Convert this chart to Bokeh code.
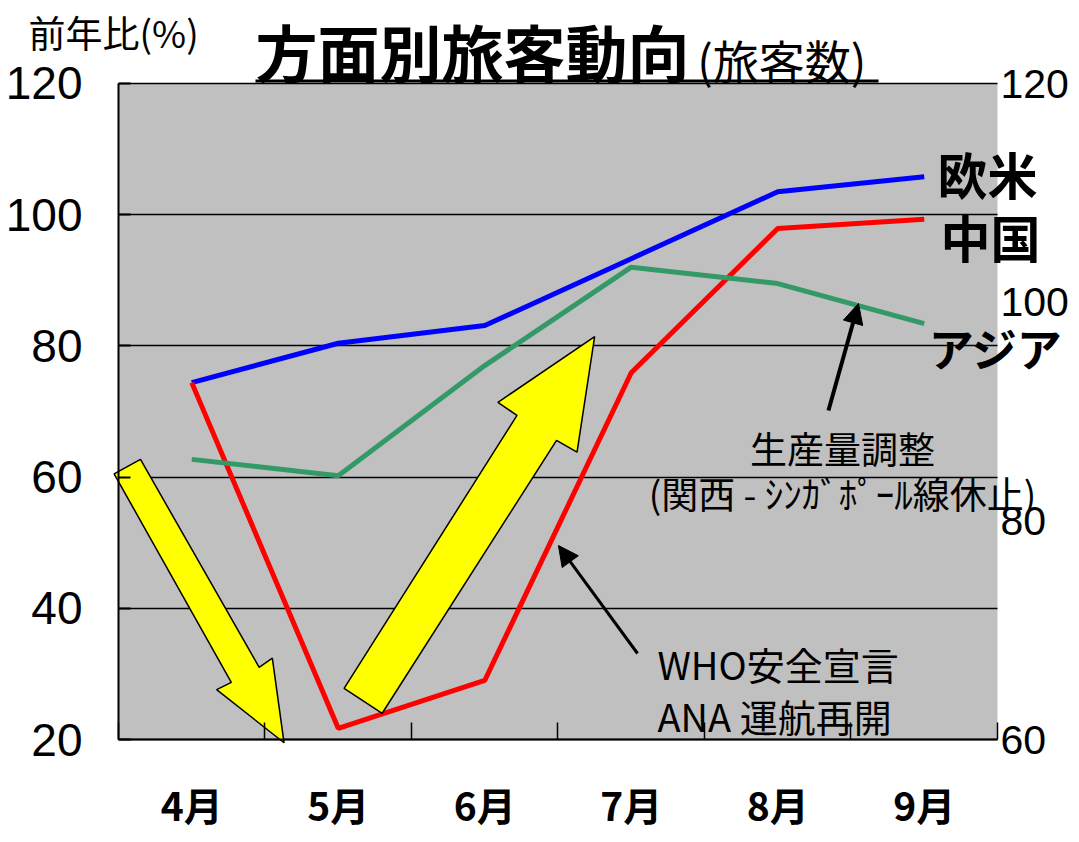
from bokeh.plotting import figure
from bokeh.models import Range1d, LinearAxis, FixedTicker, Label, Arrow, NormalHead, Grid
from bokeh.embed import file_html
from bokeh.resources import INLINE

# ---- data ----
months = ["4月", "5月", "6月", "7月", "8月", "9月"]
europe_us = [74.4, 80.4, 83.1, 93.3, 103.5, 105.8]   # 欧米
china = [74.4, 21.7, 29.0, 75.9, 97.9, 99.3]          # 中国
asia = [62.7, 60.2, 77.0, 92.0, 89.5, 83.4]           # アジア
left_ticks = [20, 40, 60, 80, 100, 120]
right_ticks = [60, 80, 100, 120]

# yellow trend arrows (x in month slots, y in left-axis %)
down_arrow_x = [-0.03, 0.15, 0.96, 1.05, 1.13, 0.67, 0.77]
down_arrow_y = [60.5, 62.7, 31.0, 32.4, 19.5, 27.6, 28.7]
up_arrow_x = [1.54, 1.80, 2.99, 3.13, 3.25, 2.59, 2.72]
up_arrow_y = [27.8, 24.0, 65.6, 63.8, 81.4, 71.4, 69.4]

NUM_FONT = "Liberation Sans"
JP_FONT = "Noto Sans CJK JP"

n = len(months)
centers = [i + 0.5 for i in range(n)]
bounds = list(range(n + 1))

# whole canvas is the frame; plot area is x 0..6, y 20..120
p = figure(width=1071, height=834, output_backend="svg", toolbar_location=None,
           x_range=Range1d(-0.80546, 6.50512), y_range=Range1d(5.5183, 132.6524),
           x_axis_location=None, y_axis_location=None,
           min_border=0, min_border_left=0, min_border_right=0,
           min_border_top=0, min_border_bottom=0)
p.background_fill_color = "white"
p.border_fill_color = "white"
p.outline_line_color = None
p.extra_y_ranges = {"right": Range1d(51.311, 127.5915)}
# drop the default grids
p.center = []

# grey plot area
p.quad(left=[0], right=[n], bottom=[left_ticks[0]], top=[left_ticks[-1]],
       fill_color="#C0C0C0", line_color=None, level="image")

# horizontal grid limited to the plot area
grid = Grid(dimension=1, ticker=FixedTicker(ticks=left_ticks), cross_bounds=(0, n),
            grid_line_color="black", grid_line_width=1.5)
p.add_layout(grid)

# x axis
xa = LinearAxis(fixed_location=left_ticks[0], bounds=(0, n),
                ticker=FixedTicker(ticks=centers, minor_ticks=bounds))
xa.major_label_overrides = {c: m for c, m in zip(centers, months)}
xa.major_tick_line_color = None
xa.minor_tick_line_color = "black"
xa.minor_tick_line_width = 1.5
xa.minor_tick_in = 17
xa.minor_tick_out = 0
xa.axis_line_width = 2
xa.axis_line_color = "black"
xa.major_label_text_font = JP_FONT
xa.major_label_text_font_style = "bold"
xa.major_label_text_font_size = "39px"
xa.major_label_text_color = "black"
xa.major_label_standoff = 30
p.add_layout(xa, "below")

# left y axis
ya = LinearAxis(fixed_location=0, bounds=(left_ticks[0], left_ticks[-1]),
                ticker=FixedTicker(ticks=left_ticks))
ya.major_tick_in = 12
ya.major_tick_out = 0
ya.major_tick_line_width = 2
ya.minor_tick_line_color = None
ya.axis_line_width = 2
ya.axis_line_color = "black"
ya.major_label_text_font = NUM_FONT
ya.major_label_text_font_size = "46px"
ya.major_label_text_color = "black"
ya.major_label_standoff = 36
p.add_layout(ya, "left")

# right y axis (no line, labels only)
ry = LinearAxis(y_range_name="right", fixed_location=n,
                bounds=(right_ticks[0], right_ticks[-1]),
                ticker=FixedTicker(ticks=right_ticks))
ry.axis_line_color = None
ry.major_tick_line_color = None
ry.minor_tick_line_color = None
ry.major_tick_in = 0
ry.major_tick_out = 0
ry.major_label_text_font = NUM_FONT
ry.major_label_text_font_size = "41px"
ry.major_label_text_color = "black"
ry.major_label_standoff = 3
p.add_layout(ry, "right")

# series lines
p.line(centers, europe_us, line_color="#0000FF", line_width=5)
p.line(centers, china, line_color="#FF0000", line_width=5)
p.line(centers, asia, line_color="#339966", line_width=5)

# yellow arrows
p.patch(down_arrow_x, down_arrow_y, fill_color="#FFFF00", line_color="black", line_width=1.5)
p.patch(up_arrow_x, up_arrow_y, fill_color="#FFFF00", line_color="black", line_width=1.5)

# black pointer arrows
p.add_layout(Arrow(end=NormalHead(size=20, fill_color="black", line_color="black"),
                   x_start=4.846, y_start=70.15, x_end=5.051, y_end=86.46,
                   line_width=4, line_color="black"))
p.add_layout(Arrow(end=NormalHead(size=20, fill_color="black", line_color="black"),
                   x_start=3.543, y_start=33.11, x_end=3.003, y_end=49.57,
                   line_width=3, line_color="black"))


def lab(x, y, text, size, bold=False, align="left", font=JP_FONT):
    p.add_layout(Label(x=x, y=y, text=text, text_font=font, text_font_size=size,
                       text_font_style="bold" if bold else "normal",
                       text_align=align, text_baseline="middle", text_color="black"))


# titles
lab(-0.614, 127.8, "前年比(%)", "37px")
lab(0.935, 124.9, "方面別旅客動向", "62px", bold=True)
lab(3.950, 123.7, "(旅客数)", "46px")
p.add_layout(Arrow(end=None, start=None, x_start=0.935, y_start=120.4, x_end=5.188, y_end=120.4,
                   line_width=3, line_color="black"))

# series names
lab(5.590, 106.4, "欧米", "50px", bold=True)
lab(5.611, 96.7, "中国", "50px", bold=True)
lab(5.530, 79.8, "アジア", "45px", bold=True)

# annotations
lab(4.942, 64.4, "生産量調整", "37px", align="center")
lab(4.942, 57.5, "(関西 - ｼﾝｶﾞﾎﾟｰﾙ線休止)", "37px", align="center")
lab(3.679, 31.6, "WHO安全宣言", "38px")
lab(3.679, 23.7, "ANA 運航再開", "38px")

open("out.html", "w").write(file_html(p, INLINE))
